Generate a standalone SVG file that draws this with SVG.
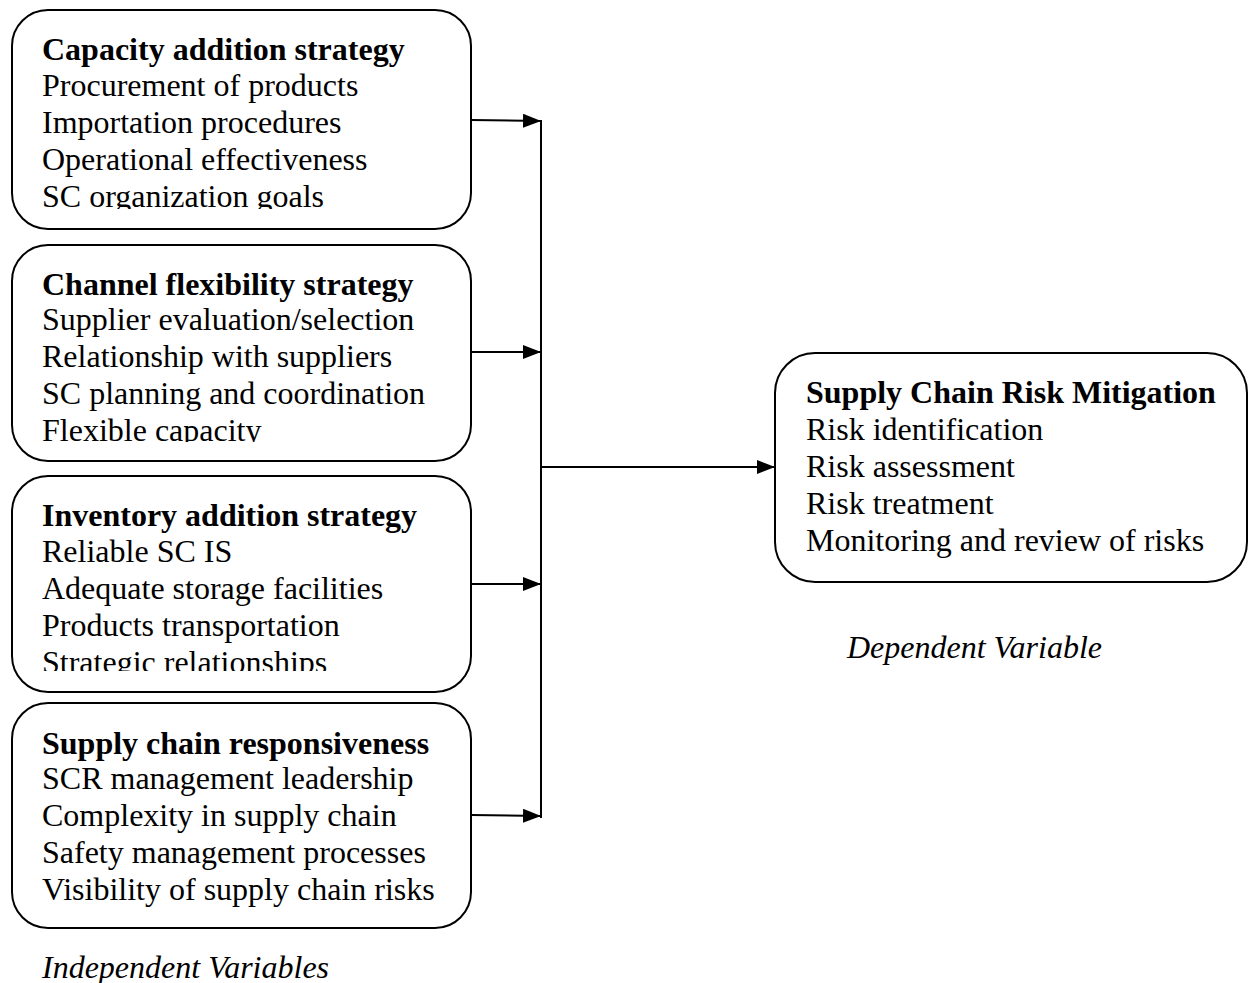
<svg xmlns="http://www.w3.org/2000/svg" width="1248" height="983" viewBox="0 0 1248 983">
<style>
.box{fill:#fff;stroke:#000;stroke-width:2}
.t{font-family:"Liberation Serif","Times New Roman",serif;font-size:32px;fill:#000}
.b{font-weight:bold}
.i{font-style:italic}
.c{stroke:#000;stroke-width:2;fill:none}
</style>
<defs>
<marker id="ah" markerWidth="18" markerHeight="14" refX="18" refY="7" orient="auto" markerUnits="userSpaceOnUse">
<path d="M0,0 L18,7 L0,14 Z" fill="#000"/>
</marker>
<clipPath id="c1"><rect x="0" y="0" width="480" height="209"/></clipPath>
<clipPath id="c2"><rect x="0" y="240" width="480" height="202"/></clipPath>
<clipPath id="c3"><rect x="0" y="470" width="480" height="201"/></clipPath>
</defs>
<rect x="0" y="0" width="1248" height="983" fill="#fff"/>
<g id="connectors">
<line class="c" x1="471" y1="120" x2="541" y2="121" marker-end="url(#ah)"/>
<line class="c" x1="471" y1="352" x2="541" y2="352" marker-end="url(#ah)"/>
<line class="c" x1="471" y1="584" x2="541" y2="584" marker-end="url(#ah)"/>
<line class="c" x1="471" y1="815" x2="541" y2="816" marker-end="url(#ah)"/>
<line class="c" x1="541" y1="120" x2="541" y2="818"/>
<line class="c" x1="541" y1="467" x2="775" y2="467" marker-end="url(#ah)"/>
</g>
<g id="n1">
<rect class="box" x="12" y="10" width="459" height="219" rx="36"/>
<g clip-path="url(#c1)">
<text class="t b" x="42" y="60">Capacity addition strategy</text>
<text class="t" x="42" y="96">Procurement of products</text>
<text class="t" x="42" y="133">Importation procedures</text>
<text class="t" x="42" y="170">Operational effectiveness</text>
<text class="t" x="42" y="207">SC organization goals</text>
</g>
</g>
<g id="n2">
<rect class="box" x="12" y="245" width="459" height="216" rx="36"/>
<g clip-path="url(#c2)">
<text class="t b" x="42" y="295">Channel flexibility strategy</text>
<text class="t" x="42" y="330">Supplier evaluation/selection</text>
<text class="t" x="42" y="367">Relationship with suppliers</text>
<text class="t" x="42" y="404">SC planning and coordination</text>
<text class="t" x="42" y="441">Flexible capacity</text>
</g>
</g>
<g id="n3">
<rect class="box" x="12" y="476" width="459" height="216" rx="36"/>
<g clip-path="url(#c3)">
<text class="t b" x="42" y="526">Inventory addition strategy</text>
<text class="t" x="42" y="562">Reliable SC IS</text>
<text class="t" x="42" y="599">Adequate storage facilities</text>
<text class="t" x="42" y="636">Products transportation</text>
<text class="t" x="42" y="673">Strategic relationships</text>
</g>
</g>
<g id="n4">
<rect class="box" x="12" y="703" width="459" height="225" rx="36"/>
<text class="t b" x="42" y="754">Supply chain responsiveness</text>
<text class="t" x="42" y="789">SCR management leadership</text>
<text class="t" x="42" y="826">Complexity in supply chain</text>
<text class="t" x="42" y="863">Safety management processes</text>
<text class="t" x="42" y="900">Visibility of supply chain risks</text>
</g>
<g id="n5">
<rect class="box" x="775" y="353" width="472" height="229" rx="40"/>
<text class="t b" x="806" y="403">Supply Chain Risk Mitigation</text>
<text class="t" x="806" y="440">Risk identification</text>
<text class="t" x="806" y="477">Risk assessment</text>
<text class="t" x="806" y="514">Risk treatment</text>
<text class="t" x="806" y="551">Monitoring and review of risks</text>
</g>
<text class="t i" x="42" y="978">Independent Variables</text>
<text class="t i" x="847" y="658">Dependent Variable</text>
</svg>
